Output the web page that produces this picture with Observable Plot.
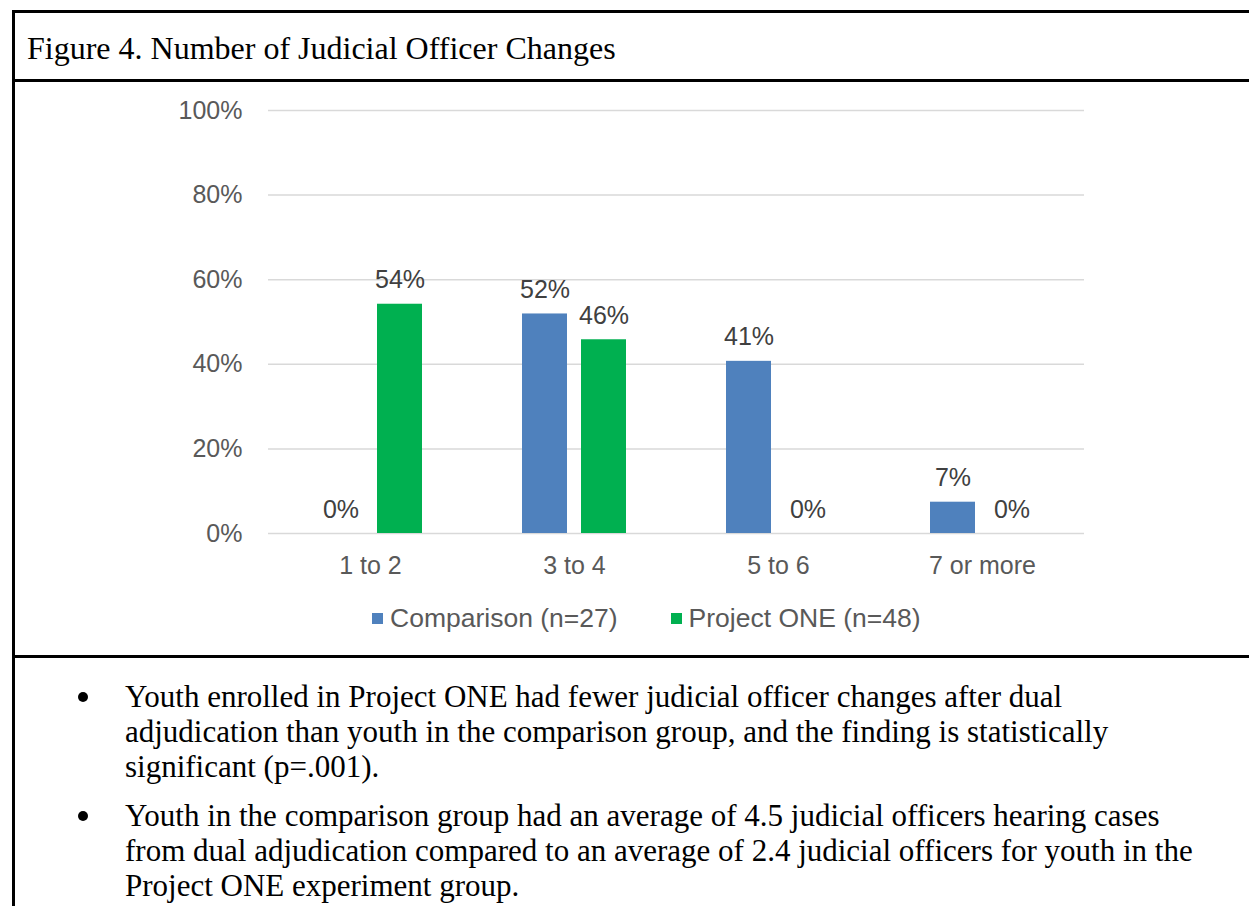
<!DOCTYPE html>
<html>
<head>
<meta charset="utf-8">
<script src="https://cdn.jsdelivr.net/npm/d3@7"></script>
<script src="https://cdn.jsdelivr.net/npm/@observablehq/plot@0.6"></script>
<style>
  html, body { margin: 0; padding: 0; background: #fff; }
  body { width: 1249px; height: 906px; position: relative; overflow: hidden; }
  .rule { position: absolute; background: #000; }
  #title { position: absolute; left: 27px; top: 28px; line-height: 40px; font-family: "Liberation Serif", "Times New Roman", serif; font-size: 32px; color: #000; white-space: nowrap; }
  #chart { position: absolute; left: 0; top: 82px; }
  #legend { position: absolute; left: 372px; top: 603px; display: flex; align-items: center; font-family: "Liberation Sans", Arial, sans-serif; font-size: 26.5px; color: #595959; line-height: 30px; white-space: nowrap; }
  #legend .item { display: flex; align-items: center; margin-right: 53px; }
  #legend .sw { width: 11px; height: 11px; margin-right: 7px; }
  #notes { position: absolute; left: 0; top: 679px; font-family: "Liberation Serif", "Times New Roman", serif; font-size: 31px; line-height: 35px; color: #000; }
  #notes .b { position: relative; padding-left: 125px; white-space: nowrap; margin-bottom: 14px; }
  #notes .b::before { content: ""; position: absolute; left: 78px; top: 13px; width: 10px; height: 10px; border-radius: 50%; background: #000; }
</style>
</head>
<body>
<div class="rule" style="left:12px; top:10px; width:1237px; height:3px;"></div>
<div class="rule" style="left:12px; top:10px; width:3px; height:896px;"></div>
<div class="rule" style="left:12px; top:79px; width:1237px; height:3px;"></div>
<div class="rule" style="left:12px; top:655px; width:1237px; height:3px;"></div>
<div id="title">Figure 4. Number of Judicial Officer Changes</div>
<div id="chart"></div>
<div id="legend"></div>
<div id="notes"></div>
<script>
const categories = ["1 to 2", "3 to 4", "5 to 6", "7 or more"];
const seriesNames = ["Comparison (n=27)", "Project ONE (n=48)"];
const comparison = [0, 0.519, 0.407, 0.074];
const projectOne = [0.542, 0.458, 0, 0];
const yTicks = [0, 0.2, 0.4, 0.6, 0.8, 1];
const titleText = "Figure 4. Number of Judicial Officer Changes";
const notes = [
  ["Youth enrolled in Project ONE had fewer judicial officer changes after dual",
   "adjudication than youth in the comparison group, and the finding is statistically",
   "significant (p=.001)."],
  ["Youth in the comparison group had an average of 4.5 judicial officers hearing cases",
   "from dual adjudication compared to an average of 2.4 judicial officers for youth in the",
   "Project ONE experiment group."]
];

const seriesColors = ["#4F81BD", "#00B050"];

const data = categories.flatMap((c, i) => [
  {cat: c, series: seriesNames[0], value: comparison[i]},
  {cat: c, series: seriesNames[1], value: projectOne[i]}
]);

const pct = d3.format(".0%");

const chart = Plot.plot({
  width: 1249,
  height: 518,
  marginLeft: 266,
  marginRight: 164,
  marginTop: 28,
  marginBottom: 67,
  style: {fontFamily: "'Liberation Sans', Arial, sans-serif", fontSize: "25px", color: "#595959", background: "transparent", overflow: "visible"},
  fx: {domain: categories, padding: 0, label: null, axis: "bottom", tickSize: 0, tickPadding: 23},
  x: {domain: seriesNames, paddingInner: 0.233, paddingOuter: 0.823, axis: null},
  y: {domain: [0, 1], ticks: yTicks, tickFormat: pct, label: null, tickSize: 0, tickPadding: 26},
  color: {domain: seriesNames, range: seriesColors},
  marks: [
    Plot.gridY(yTicks, {stroke: "#d9d9d9", strokeOpacity: 1, strokeWidth: 1.5}),
    Plot.barY(data, {fx: "cat", x: "series", y: "value", fill: "series"}),
    Plot.text(data, {fx: "cat", x: "series", y: "value", text: d => pct(d.value), dy: -24, fill: "#404040"})
  ]
});
document.getElementById("chart").appendChild(chart);

document.getElementById("title").textContent = titleText;

const legend = document.getElementById("legend");
seriesNames.forEach((s, i) => {
  const item = document.createElement("div");
  item.className = "item";
  const sw = document.createElement("div");
  sw.className = "sw";
  sw.style.background = seriesColors[i];
  const t = document.createElement("span");
  t.textContent = s;
  item.appendChild(sw);
  item.appendChild(t);
  legend.appendChild(item);
});

const notesEl = document.getElementById("notes");
notes.forEach(lines => {
  const b = document.createElement("div");
  b.className = "b";
  lines.forEach((ln, j) => {
    if (j > 0) b.appendChild(document.createElement("br"));
    b.appendChild(document.createTextNode(ln));
  });
  notesEl.appendChild(b);
});
</script>
</body>
</html>
